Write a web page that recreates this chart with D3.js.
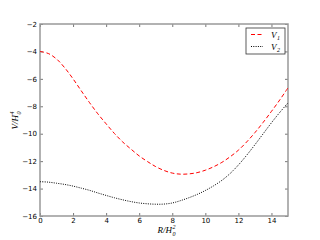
<!DOCTYPE html>
<html>
<head>
<meta charset="utf-8">
<script src="https://cdn.jsdelivr.net/npm/d3@7"></script>
<style>
  body { margin: 0; background: #fff; }
  svg { display: block; }
  .tick text { font-family: "DejaVu Sans", sans-serif; font-size: 7px; fill: #000; }
  .math { font-family: "Liberation Serif", serif; font-style: italic; fill: #000; }
</style>
</head>
<body>
<svg class="chart_svg"></svg>
<script>
// values
const rValues = [0, 0.5, 1, 1.5, 2, 2.5, 3, 3.5, 4, 4.5, 5, 5.5, 6, 6.5, 7, 7.5,
    8, 8.5, 9, 9.5, 10, 10.5, 11, 11.5, 12, 12.5, 13, 13.5, 14, 14.5, 15];
const v1Values = [-4.0, -4.15, -4.55, -5.2, -6.0, -6.88, -7.74, -8.55, -9.28, -9.98, -10.6, -11.12, -11.62, -12.03, -12.4, -12.68,
    -12.87, -12.95, -12.93, -12.84, -12.66, -12.41, -12.09, -11.68, -11.2, -10.6, -9.92, -9.17, -8.37, -7.54, -6.65];
const v2Values = [-13.5, -13.53, -13.61, -13.7, -13.82, -13.97, -14.13, -14.32, -14.5, -14.67, -14.82, -14.95, -15.05, -15.11, -15.14, -15.13,
    -15.05, -14.88, -14.67, -14.43, -14.14, -13.8, -13.4, -12.9, -12.28, -11.57, -10.8, -10.0, -9.2, -8.45, -7.75];
const xTicks = [0, 2, 4, 6, 8, 10, 12, 14];
const yTicks = [-16, -14, -12, -10, -8, -6, -4, -2];
const seriesNames = ["1", "2"];

const margin = { top: 24, right: 32, bottom: 24, left: 40 };
const width = 320 - margin.left - margin.right;
const height = 240 - margin.top - margin.bottom;

const svg = d3.select(".chart_svg")
    .attr("width", 320)
    .attr("height", 240);

const g = svg.append("g")
    .attr("transform", `translate(${margin.left},${margin.top})`);

const x = d3.scaleLinear().domain([0, 15]).range([0, width]);
const y = d3.scaleLinear().domain([-16, -2]).range([height, 0]);

const fmt = d => d < 0 ? "\u2212" + Math.abs(d) : String(d);

// axes, ticks pointing inward like matplotlib
g.append("g")
    .attr("transform", `translate(0,${height})`)
    .call(d3.axisBottom(x).tickValues(xTicks).tickFormat(fmt).tickSizeInner(-3).tickSizeOuter(0).tickPadding(2));
g.append("g")
    .call(d3.axisTop(x).tickValues(xTicks).tickFormat("").tickSizeInner(-3).tickSizeOuter(0));
g.append("g")
    .call(d3.axisLeft(y).tickValues(yTicks).tickFormat(fmt).tickSizeInner(-3).tickSizeOuter(0).tickPadding(3));
g.append("g")
    .attr("transform", `translate(${width},0)`)
    .call(d3.axisRight(y).tickValues(yTicks).tickFormat("").tickSizeInner(-3).tickSizeOuter(0));

g.selectAll(".domain").remove();
g.selectAll(".tick line").attr("stroke", "#555").attr("stroke-width", 0.8);

g.append("rect")
    .attr("width", width)
    .attr("height", height)
    .attr("fill", "none")
    .attr("stroke", "#999")
    .attr("stroke-width", 1.5);

// curves
const line = vals => d3.line()
    .x((d, i) => x(rValues[i]))
    .y(d => y(d))
    .curve(d3.curveCatmullRom.alpha(0.5))(vals);

g.append("path")
    .attr("d", line(v1Values))
    .attr("fill", "none")
    .attr("stroke", "#ff0000")
    .attr("stroke-width", 1)
    .attr("stroke-dasharray", "4,2.5");

g.append("path")
    .attr("d", line(v2Values))
    .attr("fill", "none")
    .attr("stroke", "#000")
    .attr("stroke-width", 1)
    .attr("stroke-dasharray", "1,1.3");

// axis labels (sub/superscripts as separate texts)
function mathLabel(parent, base, sub, sup) {
    parent.append("text").attr("class", "math").attr("x", 0).attr("y", 0)
        .attr("text-anchor", "end").style("font-size", "9px").text(base);
    parent.append("text").attr("class", "math").attr("x", 0.5).attr("y", 2.5)
        .style("font-size", "6px").text(sub);
    parent.append("text").attr("class", "math").attr("x", 0.5).attr("y", -4.5)
        .style("font-size", "6px").text(sup);
}

mathLabel(svg.append("g").attr("transform", "translate(172,233)"), "R/H", "0", "2");
mathLabel(svg.append("g").attr("transform", `translate(18,${margin.top + height / 2 - 5}) rotate(-90)`), "V/H", "0", "4");

// legend
const legend = svg.append("g").attr("transform", "translate(246,28)");
legend.append("rect")
    .attr("width", 39)
    .attr("height", 26)
    .attr("fill", "#fff")
    .attr("stroke", "#333")
    .attr("stroke-width", 0.8);

const styles = [
    { color: "#ff0000", dash: "4,2.5" },
    { color: "#000", dash: "1,1.3" }
];
seriesNames.forEach((n, i) => {
    const row = legend.append("g").attr("transform", `translate(0,${6.5 + i * 12})`);
    row.append("line")
        .attr("x1", 5).attr("x2", 17)
        .attr("stroke", styles[i].color)
        .attr("stroke-width", 1)
        .attr("stroke-dasharray", styles[i].dash);
    row.append("text")
        .attr("class", "math")
        .attr("x", 25)
        .attr("y", 3)
        .style("font-size", "9px")
        .text("V");
    row.append("text")
        .attr("class", "math")
        .attr("x", 31)
        .attr("y", 5)
        .style("font-size", "6px")
        .text(n);
});
</script>
</body>
</html>
